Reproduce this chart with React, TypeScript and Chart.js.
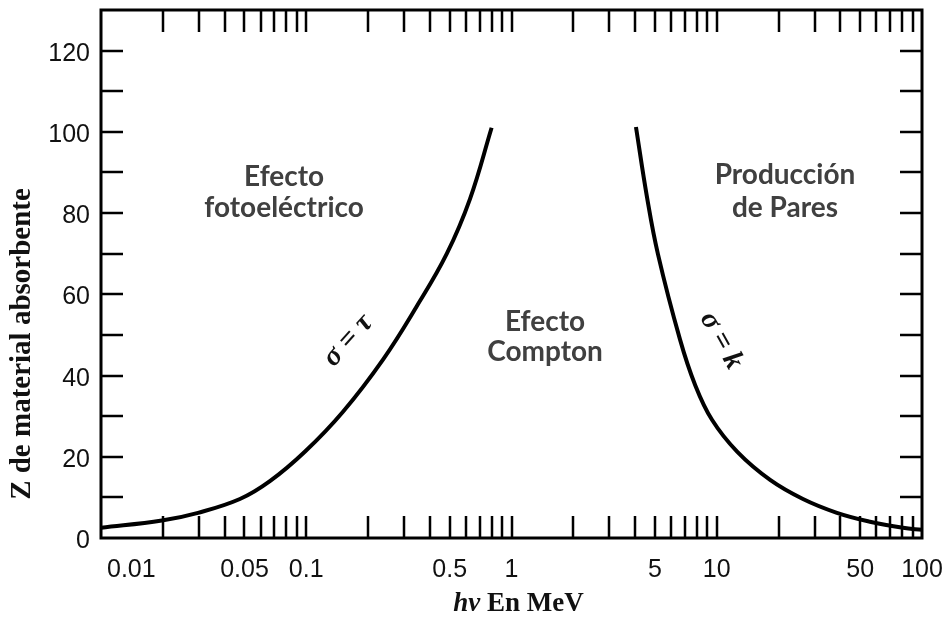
import React, { useEffect, useRef } from 'react';
import { Chart, registerables } from 'chart.js';

Chart.register(...registerables);

// Photoelectric / Compton boundary (sigma = tau)
const photoEnergy = [0.01, 0.0198, 0.0297, 0.0475, 0.0665, 0.0987, 0.151, 0.237, 0.345, 0.484, 0.628, 0.8];
const photoZ = [2.5, 4.3, 6.2, 9.6, 14.0, 21.3, 31.1, 44, 57, 70, 83.5, 101];

// Compton / pair production boundary (sigma = k)
const pairEnergy = [4.04, 4.57, 5.17, 6.62, 7.83, 9.48, 12.6, 18.2, 26.3, 38.5, 55.8, 80.8, 100];
const pairZ = [101.2, 84, 69.9, 48.9, 37.8, 29.1, 21.2, 14.3, 9.6, 6.2, 4.0, 2.5, 2.0];

const xTickValues = [0.01, 0.05, 0.1, 0.5, 1, 5, 10, 50, 100];
const xTickLabels = ['0.01', '0.05', '0.1', '0.5', '1', '5', '10', '50', '100'];
const yTickValues = [0, 20, 40, 60, 80, 100, 120];
const yTickLabels = ['0', '20', '40', '60', '80', '100', '120'];
const yMinorValues = [10, 20, 30, 40, 50, 60, 70, 80, 90, 100, 110, 120];
const xDecadeExponents = [-2, -1, 0, 1];
const xMultipliers = [1, 2, 3, 4, 5, 6, 7, 8, 9];

const yTitle = 'Z de material absorbente';
const xTitleItalic = 'hv';
const xTitleRest = ' En MeV';

const regionLabels = [
  { lines: ['Efecto', 'fotoeléctrico'], e: 0.078, z: [86.7, 79] },
  { lines: ['Efecto', 'Compton'], e: 1.456, z: [50.9, 43.7] },
  { lines: ['Producción', 'de Pares'], e: 21.5, z: [87.2, 79] },
];
const sigmaLabels = [
  { text: 'σ = τ', e: 0.16, z: 48.6, angle: -48 },
  { text: 'σ = k', e: 10.5, z: 48.6, angle: 61 },
];

const decorPlugin = {
  id: 'decor',
  afterDraw(chart: any) {
    const { ctx, chartArea } = chart;
    const { left, right, top, bottom } = chartArea;
    const xs = chart.scales.x;
    const ys = chart.scales.y;
    ctx.save();
    const TL = 22;
    ctx.strokeStyle = '#000';
    ctx.lineWidth = 2.5;
    ctx.beginPath();
    for (const ex of xDecadeExponents) {
      for (const m of xMultipliers) {
        const v = Number((m * Math.pow(10, ex)).toPrecision(3));
        if (v <= 0.01 || v >= 100) continue;
        const px = Math.round(xs.getPixelForValue(v));
        ctx.moveTo(px, bottom);
        ctx.lineTo(px, bottom - TL);
        ctx.moveTo(px, top);
        ctx.lineTo(px, top + TL);
      }
    }
    for (const z of yMinorValues) {
      const py = Math.round(ys.getPixelForValue(z));
      ctx.moveTo(left, py);
      ctx.lineTo(left + TL, py);
      ctx.moveTo(right, py);
      ctx.lineTo(right - TL, py);
    }
    ctx.stroke();
    ctx.lineWidth = 3;
    ctx.strokeRect(left, top, right - left, bottom - top);

    // tick labels
    ctx.fillStyle = '#111';
    ctx.font = '25px "Liberation Sans", Arial, sans-serif';
    ctx.textBaseline = 'alphabetic';
    ctx.textAlign = 'right';
    yTickValues.forEach((v, i) => {
      const py = ys.getPixelForValue(v);
      ctx.fillText(yTickLabels[i], left - 11, py + 10);
    });
    xTickValues.forEach((v, i) => {
      const px = xs.getPixelForValue(v);
      if (i === 0) {
        ctx.textAlign = 'left';
        ctx.fillText(xTickLabels[i], px + 6, bottom + 39);
      } else {
        ctx.textAlign = 'center';
        ctx.fillText(xTickLabels[i], px, bottom + 39);
      }
    });

    // axis titles
    ctx.save();
    ctx.translate(23, 344);
    ctx.rotate(-Math.PI / 2);
    ctx.textAlign = 'center';
    ctx.textBaseline = 'middle';
    ctx.fillStyle = '#111';
    ctx.font = 'bold 29px "Liberation Serif", "Times New Roman", serif';
    ctx.fillText(yTitle, 0, 0);
    ctx.restore();

    ctx.textAlign = 'left';
    ctx.textBaseline = 'alphabetic';
    ctx.font = 'italic bold 27px "Liberation Serif", serif';
    const w1 = ctx.measureText(xTitleItalic).width;
    ctx.font = 'bold 27px "Liberation Serif", serif';
    const w2 = ctx.measureText(xTitleRest).width;
    const cx = (left + right) / 2 + 7;
    const startX = cx - (w1 + w2) / 2;
    ctx.font = 'italic bold 27px "Liberation Serif", serif';
    ctx.fillText(xTitleItalic, startX, bottom + 73);
    ctx.font = 'bold 27px "Liberation Serif", serif';
    ctx.fillText(xTitleRest, startX + w1, bottom + 73);

    // region labels
    ctx.fillStyle = '#404040';
    ctx.font = 'bold 28px Lato, "Open Sans", sans-serif';
    ctx.textAlign = 'center';
    for (const r of regionLabels) {
      const px = xs.getPixelForValue(r.e);
      r.lines.forEach((ln, i) => {
        ctx.fillText(ln, px, ys.getPixelForValue(r.z[i]));
      });
    }

    // sigma labels
    ctx.fillStyle = '#111';
    ctx.font = 'italic bold 29px "Liberation Serif", serif';
    ctx.textBaseline = 'middle';
    for (const s of sigmaLabels) {
      ctx.save();
      ctx.translate(xs.getPixelForValue(s.e), ys.getPixelForValue(s.z));
      ctx.rotate((s.angle * Math.PI) / 180);
      ctx.fillText(s.text, 0, 0);
      ctx.restore();
    }
    ctx.restore();
  },
};

export default function App() {
  const ref = useRef<HTMLCanvasElement | null>(null);
  useEffect(() => {
    if (!ref.current) return;
    const chart = new Chart(ref.current, {
      type: 'line',
      data: {
        datasets: [
          {
            data: photoEnergy.map((e, i) => ({ x: e, y: photoZ[i] })),
            borderColor: '#000',
            borderWidth: 4,
            pointRadius: 0,
            tension: 0.4,
            fill: false,
          },
          {
            data: pairEnergy.map((e, i) => ({ x: e, y: pairZ[i] })),
            borderColor: '#000',
            borderWidth: 4,
            pointRadius: 0,
            tension: 0.4,
            fill: false,
          },
        ],
      },
      options: {
        animation: false,
        responsive: false,
        devicePixelRatio: 1,
        layout: { padding: { left: 101, right: 25, top: 10, bottom: 79 } },
        plugins: { legend: { display: false }, tooltip: { enabled: false } },
        scales: {
          x: { type: 'logarithmic', min: 0.01, max: 100, display: false },
          y: { type: 'linear', min: 0, max: 130, display: false },
        },
      },
      plugins: [decorPlugin],
    } as any);
    return () => chart.destroy();
  }, []);
  return (
    <div style={{ position: 'fixed', left: 0, top: 0, width: 947, height: 617, background: '#fff' }}>
      <canvas ref={ref} width={947} height={617} />
    </div>
  );
}
